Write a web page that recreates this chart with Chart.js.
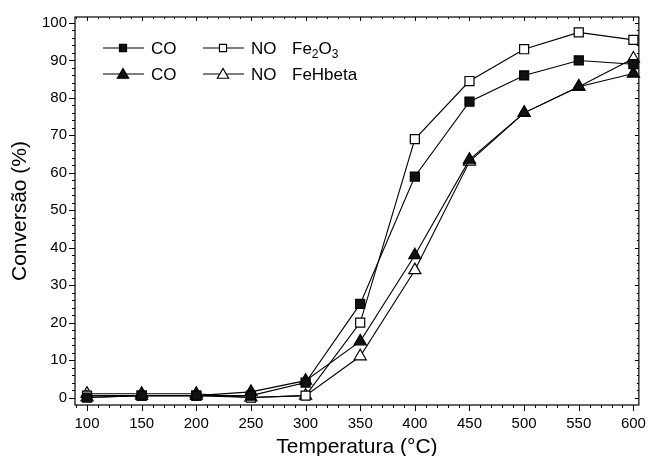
<!DOCTYPE html>
<html>
<head>
<meta charset="utf-8">
<script src="https://cdn.jsdelivr.net/npm/chart.js@4.4.1/dist/chart.umd.min.js"></script>
<style>
  body { margin: 0; background: #fff; }
</style>
</head>
<body>
<canvas id="chart" width="656" height="456"></canvas>
<script>
// temperatura (°C)
const temps = [100, 150, 200, 250, 300, 350, 400, 450, 500, 550, 600];
// conversão (%)
const coFe2O3 = [0, 0.5, 0.5, 0.5, 4, 25, 59, 79, 86, 90, 89];
const noFe2O3 = [0.5, 0.5, 0.5, 0, 0.5, 20, 69, 84.5, 93, 97.5, 95.5];
const coFeHbeta = [0, 0.5, 0.5, 1.5, 4.5, 15, 38, 63.5, 76, 83, 86.5];
const noFeHbeta = [1, 1, 1, 0, 0.5, 11, 34, 63, 76, 83, 90.5];

const xTicks = [100, 150, 200, 250, 300, 350, 400, 450, 500, 550, 600];
const yTicks = [0, 10, 20, 30, 40, 50, 60, 70, 80, 90, 100];

Chart.defaults.font.family = "'Liberation Sans', Arial, sans-serif";
Chart.defaults.color = '#000';

function pts(arr) {
    return temps.map((t, i) => ({ x: t, y: arr[i] }));
}

function series(label, arr, style, filled, radius) {
    return {
        label: label,
        data: pts(arr),
        borderColor: '#000',
        borderWidth: 1.1,
        pointStyle: style,
        pointRadius: radius,
        pointBackgroundColor: filled ? '#111' : '#fff',
        pointBorderColor: '#000',
        pointBorderWidth: 1.2,
        tension: 0,
        clip: false
    };
}

// moldura e marcas de escala (principais e secundárias)
const framePlugin = {
    id: 'frame',
    beforeDatasetsDraw(chart) {
        const { ctx, chartArea: a, scales: { x, y } } = chart;
        ctx.save();
        ctx.strokeStyle = '#000';
        ctx.lineWidth = 1.2;
        ctx.strokeRect(a.left, a.top, a.right - a.left, a.bottom - a.top);
        ctx.lineWidth = 1;
        ctx.beginPath();
        for (let v = 90; v <= 600; v += 10) {
            const px = Math.round(x.getPixelForValue(v)) + 0.5;
            const major = v % 50 === 0;
            ctx.moveTo(px, a.bottom);
            ctx.lineTo(px, a.bottom + (major ? 6 : 3));
            ctx.moveTo(px, a.top);
            ctx.lineTo(px, a.top + (major ? 4 : 2));
        }
        for (let v = 0; v <= 100; v += 2) {
            const py = Math.round(y.getPixelForValue(v)) + 0.5;
            const major = v % 10 === 0;
            ctx.moveTo(a.left, py);
            ctx.lineTo(a.left - (major ? 6 : 3), py);
            ctx.moveTo(a.right, py);
            ctx.lineTo(a.right - (major ? 4 : 2), py);
        }
        ctx.stroke();
        ctx.restore();
    }
};

// legenda em duas linhas, agrupada por catalisador
const legendPlugin = {
    id: 'groupLegend',
    afterDraw(chart) {
        const ctx = chart.ctx;
        const sets = chart.data.datasets;
        const rows = [
            { y: 48, items: [0, 1], group: [['Fe', 0], ['2', 1], ['O', 0], ['3', 1]] },
            { y: 74, items: [2, 3], group: [['FeHbeta', 0]] }
        ];
        const cols = [103, 203];
        ctx.save();
        rows.forEach(row => {
            row.items.forEach((di, k) => {
                const ds = sets[di];
                const x0 = cols[k];
                ctx.strokeStyle = '#000';
                ctx.lineWidth = 1.2;
                ctx.beginPath();
                ctx.moveTo(x0, row.y);
                ctx.lineTo(x0 + 41, row.y);
                ctx.stroke();
                ctx.fillStyle = ds.pointBackgroundColor;
                Chart.helpers.drawPoint(ctx, {
                    pointStyle: ds.pointStyle,
                    rotation: 0,
                    radius: ds.pointStyle === 'rect' ? 5 : 6.5,
                    borderWidth: 1.2
                }, x0 + 20, row.y + (ds.pointStyle === 'rect' ? 0 : 1));
                ctx.fillStyle = '#000';
                ctx.font = "17px 'Liberation Sans', Arial, sans-serif";
                ctx.textBaseline = 'middle';
                ctx.textAlign = 'left';
                ctx.fillText(ds.label, x0 + 48, row.y + 1);
            });
            let gx = 292;
            row.group.forEach(([txt, sub]) => {
                ctx.font = sub ? "12px 'Liberation Sans', Arial, sans-serif"
                               : "17px 'Liberation Sans', Arial, sans-serif";
                ctx.fillText(txt, gx, row.y + 1 + (sub ? 6 : 0));
                gx += ctx.measureText(txt).width;
            });
        });
        ctx.restore();
    }
};

new Chart(document.getElementById('chart'), {
    type: 'line',
    data: {
        datasets: [
            series('CO', coFe2O3, 'rect', true, 6.4),
            series('NO', noFe2O3, 'rect', false, 6.4),
            series('CO', coFeHbeta, 'triangle', true, 7),
            series('NO', noFeHbeta, 'triangle', false, 7)
        ]
    },
    options: {
        responsive: false,
        animation: false,
        layout: { padding: { top: 15, right: 10, left: 0, bottom: 0 } },
        plugins: {
            legend: { display: false },
            tooltip: { enabled: false }
        },
        scales: {
            x: {
                type: 'linear',
                min: 89,
                max: 605,
                afterBuildTicks: s => { s.ticks = xTicks.map(v => ({ value: v })); },
                afterFit: s => { s.height = 51; },
                grid: { display: false, drawTicks: false, tickLength: 0 },
                border: { display: false },
                ticks: { font: { size: 15 }, padding: 10, maxRotation: 0, autoSkip: false },
                title: {
                    display: true,
                    text: 'Temperatura (°C)',
                    font: { size: 21, lineHeight: 1 },
                    padding: { top: 0, bottom: -1.5 }
                }
            },
            y: {
                type: 'linear',
                min: -2,
                max: 101.6,
                afterBuildTicks: s => { s.ticks = yTicks.map(v => ({ value: v })); },
                afterFit: s => { s.width = 75; },
                grid: { display: false, drawTicks: false, tickLength: 0 },
                border: { display: false },
                ticks: { font: { size: 15 }, padding: 8 },
                title: {
                    display: true,
                    text: 'Conversão (%)',
                    font: { size: 21, lineHeight: 1 },
                    padding: { top: 10, bottom: 0 }
                }
            }
        }
    },
    plugins: [framePlugin, legendPlugin]
});
</script>
</body>
</html>
